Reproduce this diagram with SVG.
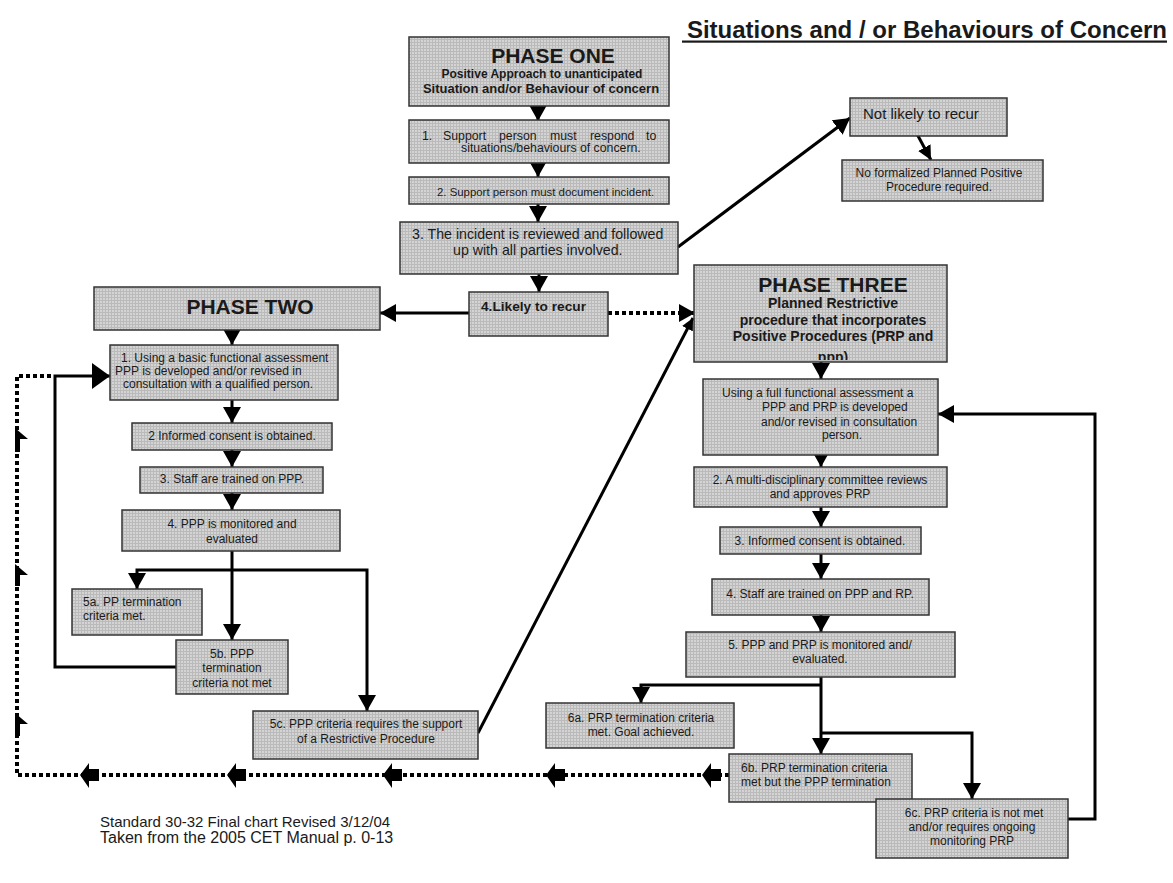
<svg xmlns="http://www.w3.org/2000/svg" width="1173" height="883" viewBox="0 0 1173 883" xml:space="preserve">
<defs>
<style>
text{font-family:"Liberation Sans",Arial,sans-serif;fill:#1a1a1a}
.b{font-weight:bold}
.box{fill:url(#hatch);stroke:#333;stroke-width:1.5}
.c{fill:none;stroke:#000;stroke-width:3}
.d{fill:none;stroke:#000;stroke-width:4;stroke-dasharray:4 3}
.m{text-anchor:middle}
.t12{font-size:12px}
.ah{fill:#000}
</style>
<pattern id="hatch" width="3" height="3" patternUnits="userSpaceOnUse"><rect width="3" height="3" fill="#d4d4d4"/><path d="M0,0.5H3M0.5,0V3" stroke="#bababa" stroke-width="1"/></pattern>
<marker id="ah" viewBox="0 0 16 18" refX="16" refY="9" markerWidth="16" markerHeight="18" markerUnits="userSpaceOnUse" orient="auto"><path d="M0,0L16,9L0,18z" fill="#000"/></marker>
<marker id="ahL" viewBox="0 0 18 26" refX="18" refY="13" markerWidth="18" markerHeight="26" markerUnits="userSpaceOnUse" orient="auto"><path d="M0,0L18,13L0,26z" fill="#000"/></marker>
<marker id="ahM" viewBox="0 0 14 14" refX="14" refY="7" markerWidth="14" markerHeight="14" markerUnits="userSpaceOnUse" orient="auto"><path d="M0,0L14,7L0,14z" fill="#000"/></marker>
<marker id="ahS" viewBox="0 0 12 12" refX="12" refY="6" markerWidth="12" markerHeight="12" markerUnits="userSpaceOnUse" orient="auto"><path d="M0,0L12,6L0,12z" fill="#000"/></marker>
<clipPath id="p3clip"><rect x="694" y="265" width="253" height="95"/></clipPath>
</defs>
<rect width="1173" height="883" fill="#fff"/>
<g id="title"><text class="b" x="1167" y="38" font-size="24" text-anchor="end">Situations and / or Behaviours of Concern</text><rect x="682" y="40.5" width="485" height="2.2" fill="#1a1a1a"/></g>
<g id="connectors">
<path class="c" d="M538,106V121" marker-end="url(#ah)"/>
<path class="c" d="M538,163V177" marker-end="url(#ah)"/>
<path class="c" d="M538,204V222" marker-end="url(#ah)"/>
<path class="c" d="M539,274V292" marker-end="url(#ah)"/>
<path class="c" d="M678,247L850,118" marker-end="url(#ah)"/>
<path class="c" d="M917,134L931,160" marker-end="url(#ahM)"/>
<path class="c" d="M469,313H380" marker-end="url(#ah)"/>
<path class="d" d="M608,313H695" marker-end="url(#ah)"/>
<path class="c" stroke-width="2.5" d="M478,733L693,318" marker-end="url(#ahS)"/>
<path class="c" d="M232,330V345" marker-end="url(#ah)"/>
<path class="c" d="M232,400V423" marker-end="url(#ah)"/>
<path class="c" d="M232,450V467" marker-end="url(#ah)"/>
<path class="c" d="M232,493V510" marker-end="url(#ah)"/>
<path class="c" d="M232,551V640" marker-end="url(#ah)"/>
<path class="c" d="M232,570H137V589" marker-end="url(#ah)"/>
<path class="c" d="M232,570H367V711" marker-end="url(#ah)"/>
<path class="c" d="M176,667H55V376H110" marker-end="url(#ahL)"/>
<path class="c" d="M821,362V379" marker-end="url(#ah)"/>
<path class="c" d="M821,455V467" marker-end="url(#ah)"/>
<path class="c" d="M821,507V527" marker-end="url(#ah)"/>
<path class="c" d="M821,554V579" marker-end="url(#ah)"/>
<path class="c" d="M821,615V632" marker-end="url(#ah)"/>
<path class="c" d="M821,676V754" marker-end="url(#ah)"/>
<path class="c" d="M821,685H641V703" marker-end="url(#ah)"/>
<path class="c" d="M821,733H972V799" marker-end="url(#ah)"/>
<path class="c" d="M1068,819H1095V414H938" marker-end="url(#ah)"/>
<path class="d" d="M729,775H17V376H53"/>
<g class="ah">
<polygon points="702,775 711,763 711,769 721,769 721,781 711,781 711,788"/>
<polygon points="546,775 555,763 555,769 565,769 565,781 555,781 555,788"/>
<polygon points="383,775 392,763 392,769 402,769 402,781 392,781 392,788"/>
<polygon points="227,775 236,763 236,769 246,769 246,781 236,781 236,788"/>
<polygon points="80,775 89,763 89,769 99,769 99,781 89,781 89,788"/>
<polygon points="15,428 28,439 20,439 20,452 15,452"/>
<polygon points="15,564 28,575 20,575 20,586 15,586"/>
<polygon points="15,713 28,724 20,724 20,736 15,736"/>
</g>
</g>
<g id="phase-one"><rect class="box" x="409" y="37" width="260" height="69"/><text class="b m" x="553" y="63" font-size="21">PHASE ONE</text><text class="b m" x="542" y="78" font-size="12">Positive Approach to unanticipated</text><text class="b m" x="541" y="93" font-size="13">Situation and/or Behaviour of concern</text></g>
<g id="p1-step1"><rect class="box" x="409" y="120" width="260" height="43"/><text font-size="12.3" y="140"><tspan x="422">1.</tspan><tspan x="443">Support</tspan><tspan x="499">person</tspan><tspan x="550">must</tspan><tspan x="590">respond</tspan><tspan x="646">to</tspan></text><text font-size="12.3" x="461" y="152">situations/behaviours of concern.</text></g>
<g id="p1-step2"><rect class="box" x="409" y="177" width="260" height="27"/><text font-size="11.4" x="437" y="196">2.  Support person must document incident.</text></g>
<g id="p1-step3"><rect class="box" x="400" y="222" width="278" height="52"/><text font-size="14.2" x="412" y="239">3. The incident is reviewed and followed</text><text font-size="14.2" x="453" y="255">up with all parties involved.</text></g>
<g id="p1-step4"><rect class="box" x="469" y="292" width="139" height="44"/><text class="b" font-size="13.7" x="481" y="311">4.Likely to recur</text></g>
<g id="not-likely"><rect class="box" x="850" y="98" width="157" height="38"/><text font-size="15" x="863" y="119">Not likely to recur</text></g>
<g id="no-formal"><rect class="box" x="842" y="160" width="201" height="41"/><text class="t12 m" x="939" y="177">No formalized Planned Positive</text><text class="t12 m" x="939" y="191">Procedure required.</text></g>
<g id="phase-two"><rect class="box" x="94" y="287" width="286" height="43"/><text class="b m" x="250" y="314" font-size="21">PHASE TWO</text></g>
<g id="p2-step1"><rect class="box" x="110" y="345" width="228" height="55"/><text class="t12" x="121" y="362">1.  Using a basic functional assessment</text><text class="t12" x="115" y="375">PPP is developed and/or revised in</text><text class="t12" x="123" y="388">consultation with a qualified person.</text></g>
<g id="p2-step2"><rect class="box" x="132" y="423" width="200" height="27"/><text class="t12 m" x="232" y="440">2 Informed consent is obtained.</text></g>
<g id="p2-step3"><rect class="box" x="140" y="467" width="183" height="26"/><text class="t12 m" x="232" y="483">3. Staff are trained on PPP.</text></g>
<g id="p2-step4"><rect class="box" x="122" y="510" width="218" height="41"/><text class="t12 m" x="232" y="528">4. PPP is  monitored and</text><text class="t12 m" x="232" y="543">evaluated</text></g>
<g id="p2-5a"><rect class="box" x="72" y="589" width="130" height="46"/><text class="t12" x="83" y="606">5a. PP termination</text><text class="t12" x="83" y="620">criteria  met.</text></g>
<g id="p2-5b"><rect class="box" x="176" y="640" width="112" height="54"/><text class="t12 m" x="232" y="658">5b. PPP</text><text class="t12 m" x="232" y="672">termination</text><text class="t12 m" x="232" y="687">criteria  not met</text></g>
<g id="p2-5c"><rect class="box" x="253" y="711" width="225" height="48"/><text class="t12 m" x="366" y="728">5c. PPP criteria requires the support</text><text class="t12 m" x="366" y="743">of a Restrictive Procedure</text></g>
<g id="phase-three"><rect class="box" x="694" y="265" width="253" height="97"/><text class="b m" x="833" y="292" font-size="21">PHASE THREE</text><text class="b m" x="833" y="308" font-size="14">Planned Restrictive</text><text class="b m" x="833" y="325" font-size="14">procedure that incorporates</text><text class="b m" x="833" y="341" font-size="14">Positive Procedures (PRP and</text><text class="b m" x="833" y="362" font-size="14" clip-path="url(#p3clip)">ppp)</text></g>
<g id="p3-step1"><rect class="box" x="703" y="379" width="235" height="76"/><text class="t12" x="722" y="397">Using a full functional assessment a</text><text class="t12" x="762" y="411">PPP and PRP is developed</text><text class="t12" x="761" y="426">and/or revised in consultation</text><text class="t12" x="822" y="439">person.</text></g>
<g id="p3-step2"><rect class="box" x="694" y="467" width="253" height="40"/><text class="t12 m" x="820" y="484">2. A multi-disciplinary committee reviews</text><text class="t12 m" x="820" y="498">and approves PRP</text></g>
<g id="p3-step3"><rect class="box" x="720" y="527" width="201" height="27"/><text class="t12 m" x="820" y="545">3. Informed consent is obtained.</text></g>
<g id="p3-step4"><rect class="box" x="712" y="579" width="217" height="36"/><text class="t12 m" x="820" y="598">4. Staff are trained on PPP and RP.</text></g>
<g id="p3-step5"><rect class="box" x="686" y="632" width="269" height="45"/><text class="t12 m" x="820" y="649">5. PPP and PRP is monitored and/</text><text class="t12 m" x="820" y="663">evaluated.</text></g>
<g id="p3-6a"><rect class="box" x="546" y="703" width="188" height="45"/><text class="t12 m" x="641" y="722">6a. PRP termination criteria</text><text class="t12 m" x="641" y="736">met. Goal achieved.</text></g>
<g id="p3-6b"><rect class="box" x="729" y="754" width="183" height="48"/><text class="t12" x="741" y="772">6b. PRP termination criteria</text><text class="t12" x="741" y="786">met  but the PPP termination</text></g>
<g id="p3-6c"><rect class="box" x="876" y="799" width="192" height="59"/><text class="t12 m" x="974" y="817">6c.  PRP criteria is not met</text><text class="t12 m" x="972" y="831">and/or requires ongoing</text><text class="t12 m" x="972" y="845">monitoring PRP</text></g>
<g id="footer"><text x="100" y="827" font-size="15">Standard 30-32 Final chart Revised 3/12/04</text><text x="100" y="843" font-size="16">Taken from the 2005 CET Manual p. 0-13</text></g>
</svg>
